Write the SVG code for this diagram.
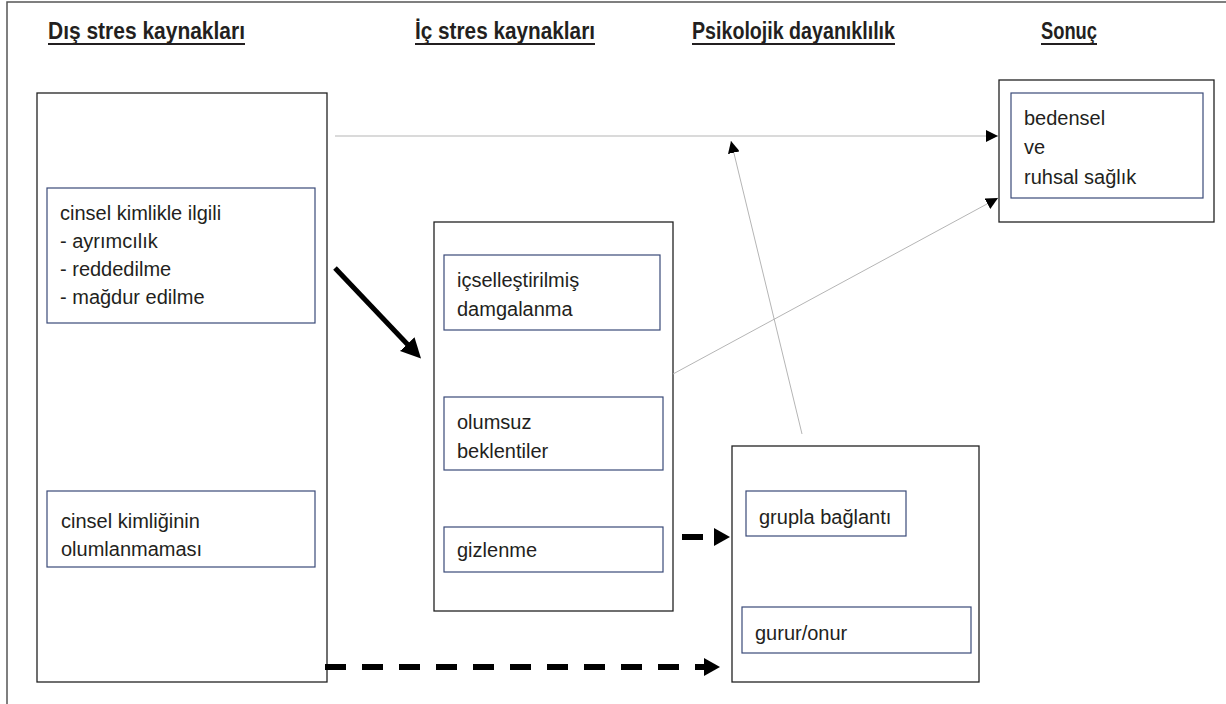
<svg xmlns="http://www.w3.org/2000/svg" width="1226" height="704" viewBox="0 0 1226 704">
<style>
.frame{fill:none;stroke:#555;stroke-width:1.5}
.outer{fill:#fff;stroke:#222;stroke-width:1.3}
.inner{fill:#fff;stroke:#3a4a78;stroke-width:1.2}
.t{font-family:"Liberation Sans",Arial,sans-serif;font-size:20px;fill:#231f20}
.h{font-family:"Liberation Sans",Arial,sans-serif;font-size:23px;font-weight:bold;fill:#231f20}
.ul{stroke:#231f20;stroke-width:1.8}
.thin{fill:none;stroke:#b5b5b5;stroke-width:1}
.thick{fill:none;stroke:#000;stroke-width:5}
.dash{fill:none;stroke:#000;stroke-width:6;stroke-dasharray:21 16}
</style>
<defs>
<marker id="ah" markerUnits="userSpaceOnUse" markerWidth="12" markerHeight="12" viewBox="0 0 12 12" refX="12" refY="6" orient="auto"><path d="M0,0 L12,6 L0,12 Z" fill="#000"/></marker>
<marker id="ahb" markerUnits="userSpaceOnUse" markerWidth="18" markerHeight="20" viewBox="0 0 18 20" refX="2" refY="10" orient="auto"><path d="M0,1 L16,10 L0,19 Z" fill="#000"/></marker>
<marker id="aht" markerUnits="userSpaceOnUse" markerWidth="22" markerHeight="22" viewBox="0 0 22 22" refX="4" refY="11" orient="auto"><path d="M0,1 L20,11 L0,21 Z" fill="#000"/></marker>
</defs>
<rect width="1226" height="704" fill="#fff"/>
<path class="frame" d="M7,704 V2 H1226"/>
<g id="headers">
<text class="h" x="48" y="39" textLength="197" lengthAdjust="spacingAndGlyphs">Dış stres kaynakları</text>
<line class="ul" x1="48" y1="44" x2="245" y2="44"/>
<text class="h" x="415" y="39" textLength="180" lengthAdjust="spacingAndGlyphs">İç stres kaynakları</text>
<line class="ul" x1="415" y1="44" x2="595" y2="44"/>
<text class="h" x="692" y="39" textLength="203" lengthAdjust="spacingAndGlyphs">Psikolojik dayanıklılık</text>
<line class="ul" x1="692" y1="44" x2="895" y2="44"/>
<text class="h" x="1041" y="39" textLength="56" lengthAdjust="spacingAndGlyphs">Sonuç</text>
<line class="ul" x1="1041" y1="44" x2="1097" y2="44"/>
</g>
<g id="dis-stres">
<rect class="outer" x="37" y="93" width="290" height="589"/>
<g id="ayrimcilik">
<rect class="inner" x="47" y="188" width="268" height="135"/>
<text class="t" x="60" y="220">cinsel kimlikle ilgili</text>
<text class="t" x="60" y="248">- ayrımcılık</text>
<text class="t" x="60" y="276">- reddedilme</text>
<text class="t" x="60" y="304">- mağdur edilme</text>
</g>
<g id="olumlanmama">
<rect class="inner" x="47" y="491" width="268" height="76"/>
<text class="t" x="61" y="528">cinsel kimliğinin</text>
<text class="t" x="61" y="556">olumlanmaması</text>
</g>
</g>
<g id="ic-stres">
<rect class="outer" x="434" y="222" width="239" height="389"/>
<g id="damgalanma">
<rect class="inner" x="444" y="255" width="216" height="75"/>
<text class="t" x="457" y="287">içselleştirilmiş</text>
<text class="t" x="457" y="316">damgalanma</text>
</g>
<g id="beklentiler">
<rect class="inner" x="444" y="397" width="219" height="73"/>
<text class="t" x="457" y="429">olumsuz</text>
<text class="t" x="457" y="458">beklentiler</text>
</g>
<g id="gizlenme">
<rect class="inner" x="444" y="527" width="219" height="45"/>
<text class="t" x="457" y="557">gizlenme</text>
</g>
</g>
<g id="dayaniklilik">
<rect class="outer" x="732" y="446" width="247" height="236"/>
<g id="grupla">
<rect class="inner" x="746" y="491" width="160" height="45"/>
<text class="t" x="759" y="524">grupla bağlantı</text>
</g>
<g id="gurur">
<rect class="inner" x="742" y="607" width="229" height="46"/>
<text class="t" x="755" y="640">gurur/onur</text>
</g>
</g>
<g id="sonuc">
<rect class="outer" x="999" y="80" width="215" height="142"/>
<rect class="inner" x="1011" y="93" width="192" height="105"/>
<text class="t" x="1024" y="125">bedensel</text>
<text class="t" x="1024" y="154">ve</text>
<text class="t" x="1024" y="184">ruhsal sağlık</text>
</g>
<g id="connectors">
<line class="thin" x1="335" y1="136" x2="998" y2="136" marker-end="url(#ah)"/>
<line class="thin" x1="673" y1="374" x2="998" y2="198" marker-end="url(#ah)"/>
<line class="thin" x1="802" y1="434" x2="731" y2="141" marker-end="url(#ah)"/>
<line class="thick" x1="335" y1="268" x2="410" y2="347" marker-end="url(#aht)"/>
<line class="dash" x1="682" y1="537" x2="716" y2="537" marker-end="url(#ahb)"/>
<line class="dash" x1="325" y1="667" x2="706" y2="667" marker-end="url(#ahb)"/>
</g>
</svg>
